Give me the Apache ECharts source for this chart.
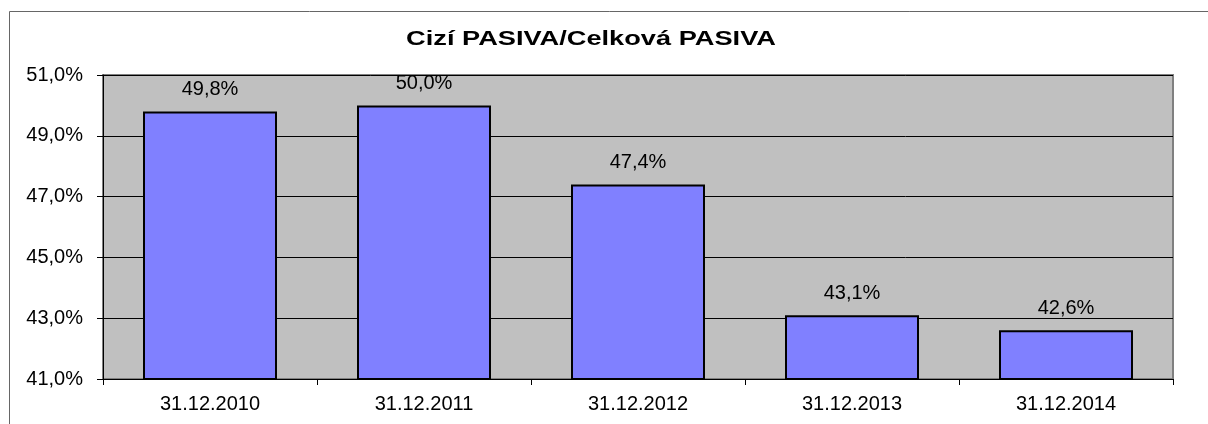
<!DOCTYPE html>
<html>
<head>
<meta charset="utf-8">
<script src="https://cdn.jsdelivr.net/npm/echarts@6/dist/echarts.min.js"></script>
<style>
  html, body { margin: 0; padding: 0; background: #fff; overflow: hidden; }
  #chart { width: 1208px; height: 424px; }
</style>
</head>
<body>
<div id="chart"></div>
<script>
// data
const categories = ['31.12.2010', '31.12.2011', '31.12.2012', '31.12.2013', '31.12.2014'];
const values = [49.8, 50.0, 47.4, 43.1, 42.6];

function pct(v) {
  return v.toFixed(1).replace('.', ',') + '%';
}

const font = 'Liberation Sans, Arial, sans-serif';
const chart = echarts.init(document.getElementById('chart'));
const option = {
  backgroundColor: '#fff',
  animation: false,
  textStyle: { fontFamily: font },
  graphic: [{
    // outer chart frame (only left and top edges are inside the picture)
    type: 'polyline',
    z: -1,
    shape: { points: [[9.5, 430], [9.5, 11.5], [1210, 11.5]] },
    style: { fill: 'none', stroke: '#666', lineWidth: 1 }
  }, {
    type: 'text',
    x: 591,
    y: 39,
    scaleX: 1.36,
    style: {
      text: 'Cizí PASIVA/Celková PASIVA',
      fontSize: 20,
      fontWeight: 'bold',
      fontFamily: font,
      fill: '#000',
      align: 'center',
      verticalAlign: 'middle'
    }
  }],
  grid: {
    left: 103, top: 75, right: 35, bottom: 45,
    show: true,
    backgroundColor: '#C0C0C0',
    borderColor: '#808080',
    borderWidth: 2
  },
  xAxis: {
    type: 'category',
    data: categories,
    axisLine: { lineStyle: { color: '#000', width: 1 } },
    axisTick: { show: true, length: 6, lineStyle: { color: '#000' } },
    axisLabel: { color: '#000', fontSize: 20, margin: 15 }
  },
  yAxis: {
    type: 'value',
    min: 41,
    max: 51,
    interval: 2,
    axisLine: { show: true, lineStyle: { color: '#000', width: 1 } },
    axisTick: { show: true, length: 6, lineStyle: { color: '#000' } },
    axisLabel: { color: '#000', fontSize: 20, margin: 20, formatter: pct },
    splitLine: { lineStyle: { color: '#000', width: 1 } }
  },
  series: [{
    type: 'bar',
    data: values,
    barWidth: 134,
    itemStyle: { color: '#8080FF', borderColor: '#000', borderWidth: 2 },
    label: {
      show: true,
      position: 'top',
      distance: 12,
      color: '#000',
      fontSize: 20,
      formatter: p => pct(p.value)
    }
  }]
};
chart.setOption(option);
</script>
</body>
</html>
